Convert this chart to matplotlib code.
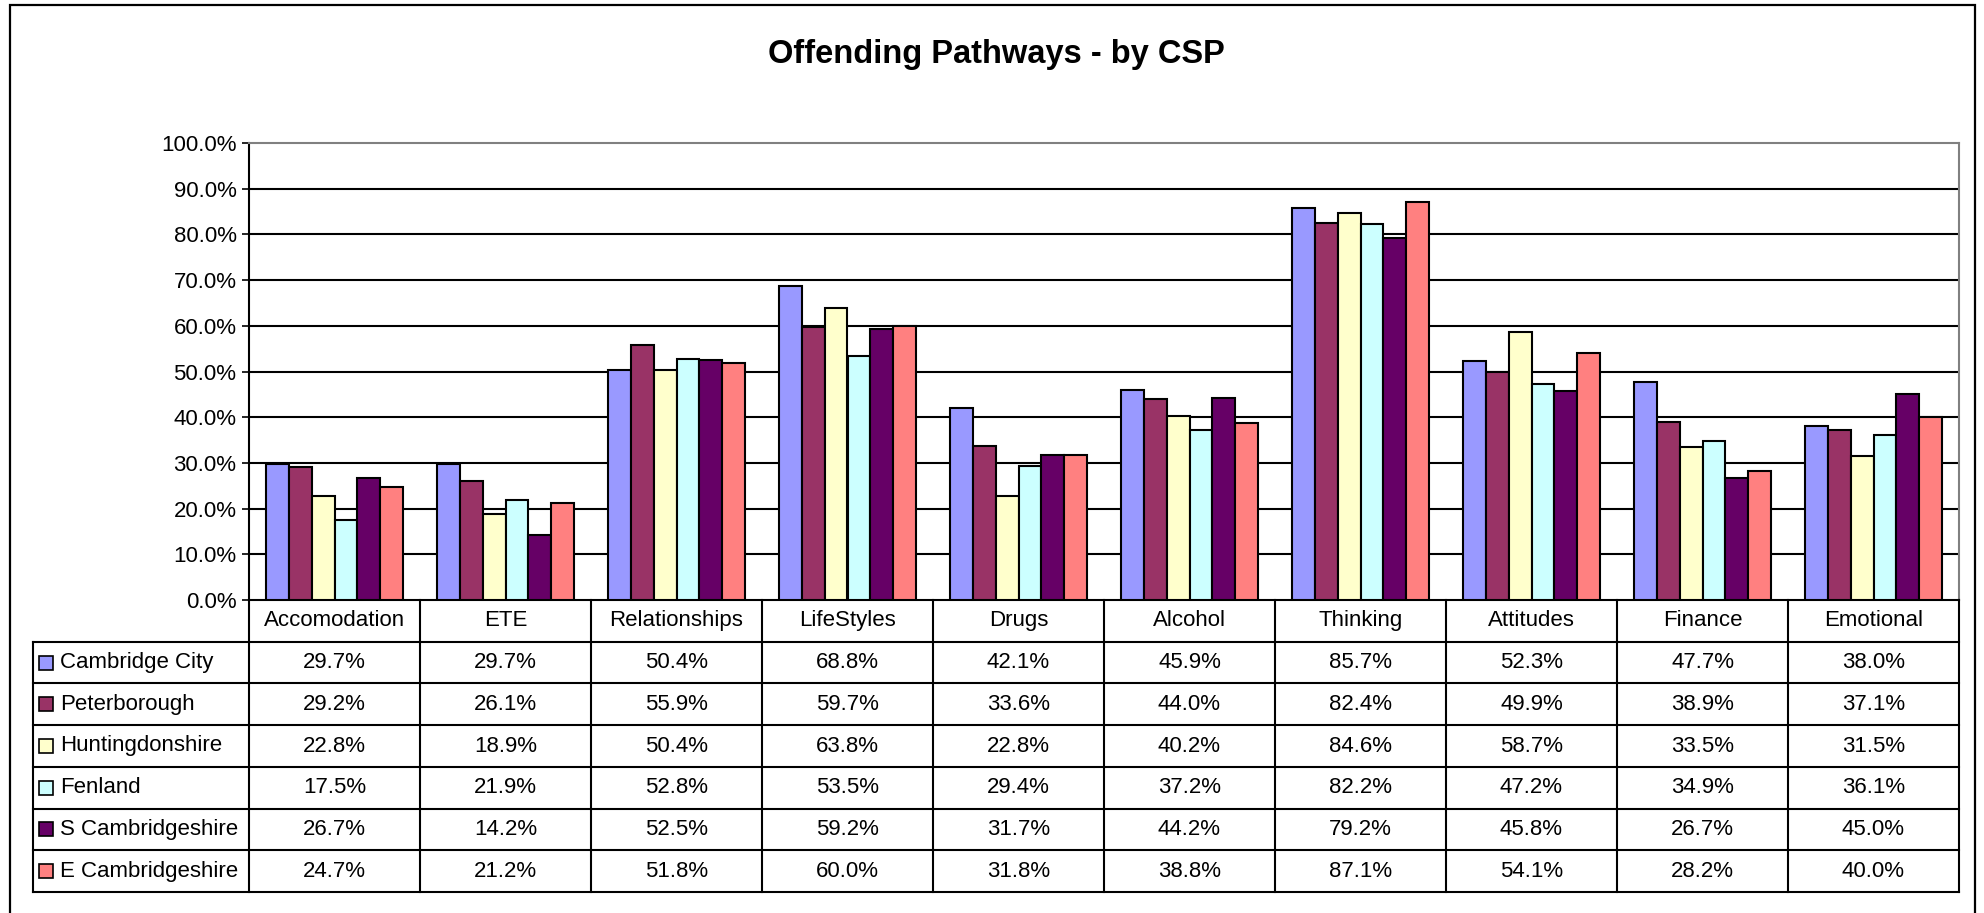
import matplotlib
matplotlib.use('Agg')
import matplotlib.pyplot as plt
import matplotlib.patches as patches
import numpy as np

plt.rcParams['font.family'] = ['Liberation Sans', 'DejaVu Sans']

categories = ['Accomodation', 'ETE', 'Relationships', 'LifeStyles', 'Drugs',
              'Alcohol', 'Thinking', 'Attitudes', 'Finance', 'Emotional']
areas = ['Cambridge City', 'Peterborough', 'Huntingdonshire', 'Fenland',
         'S Cambridgeshire', 'E Cambridgeshire']

cambridge_city   = [29.7, 29.7, 50.4, 68.8, 42.1, 45.9, 85.7, 52.3, 47.7, 38.0]
peterborough     = [29.2, 26.1, 55.9, 59.7, 33.6, 44.0, 82.4, 49.9, 38.9, 37.1]
huntingdonshire  = [22.8, 18.9, 50.4, 63.8, 22.8, 40.2, 84.6, 58.7, 33.5, 31.5]
fenland          = [17.5, 21.9, 52.8, 53.5, 29.4, 37.2, 82.2, 47.2, 34.9, 36.1]
s_cambridgeshire = [26.7, 14.2, 52.5, 59.2, 31.7, 44.2, 79.2, 45.8, 26.7, 45.0]
e_cambridgeshire = [24.7, 21.2, 51.8, 60.0, 31.8, 38.8, 87.1, 54.1, 28.2, 40.0]

series = [cambridge_city, peterborough, huntingdonshire, fenland,
          s_cambridgeshire, e_cambridgeshire]
colors = ['#9999FF', '#993366', '#FFFFCC', '#CCFFFF', '#660066', '#FF8080']

W, H = 1984, 913
fig = plt.figure(figsize=(W / 100, H / 100), dpi=100)

# outer chart border (bottom edge falls off the picture)
fig.add_artist(patches.Rectangle((10 / W, -0.02), (1975 - 10) / W, 1 - 5 / H + 0.02,
                                 transform=fig.transFigure, fill=False,
                                 edgecolor='black', lw=1.6))

fig.text(996 / W, 1 - 63 / H, 'Offending Pathways - by CSP',
         ha='center', va='baseline', fontsize=23.5, fontweight='bold')

# ---- bar plot ----
ax = fig.add_axes([249 / W, 1 - 600 / H, (1959 - 249) / W, (600 - 143) / H])
n = len(categories)
bw = 0.134
x = np.arange(n) + 0.5
for k, (vals, c) in enumerate(zip(series, colors)):
    ax.bar(x - 3 * bw + k * bw, np.array(vals) / 100, width=bw, align='edge',
           color=c, edgecolor='black', lw=1.5, zorder=3)

ax.set_xlim(0, n)
ax.set_ylim(0, 1)
ax.set_yticks(np.arange(0, 1.01, 0.1))
ax.set_yticklabels([f'{t:.1%}' for t in np.arange(0, 1.01, 0.1)], fontsize=16)
ax.set_xticks([])
for t in np.arange(0.1, 0.95, 0.1):
    ax.axhline(t, color='black', lw=1.5, zorder=1)
ax.tick_params(axis='y', direction='out', length=5, width=1.2, pad=4)
for s in ['top', 'right']:
    ax.spines[s].set_color('#808080')
    ax.spines[s].set_linewidth(1.5)
ax.spines['left'].set_linewidth(1.5)
ax.spines['bottom'].set_linewidth(1.5)

# ---- data table ----
lab_w = (249 - 33) / ((1959 - 249) / n)
tax = fig.add_axes([33 / W, 1 - 892 / H, (1959 - 33) / W, (892 - 600) / H])
tax.set_xlim(-lab_w, n)
tax.set_ylim(7, 0)
tax.axis('off')

lw = 1.5
for i in range(n + 1):
    tax.plot([i, i], [0, 7], color='black', lw=lw, clip_on=False)
tax.plot([-lab_w, -lab_w], [1, 7], color='black', lw=lw, clip_on=False)
for r in range(1, 8):
    tax.plot([-lab_w, n], [r, r], color='black', lw=lw, clip_on=False)

for i, cat in enumerate(categories):
    tax.text(i + 0.5, 0.5, cat, ha='center', va='center', fontsize=16)

px = 1 / ((1959 - 249) / n)
for r, (name, vals, c) in enumerate(zip(areas, series, colors)):
    y = r + 1.5
    tax.plot([-lab_w + 13 * px], [y], marker='s', markersize=9.5,
             markerfacecolor=c, markeredgecolor='black', markeredgewidth=1.2,
             clip_on=False)
    tax.text(-lab_w + 27 * px, y, name, ha='left', va='center', fontsize=16)
    for i, v in enumerate(vals):
        tax.text(i + 0.5, y, f'{v:.1f}%', ha='center', va='center', fontsize=16)

fig.savefig('out.png', dpi=100)
